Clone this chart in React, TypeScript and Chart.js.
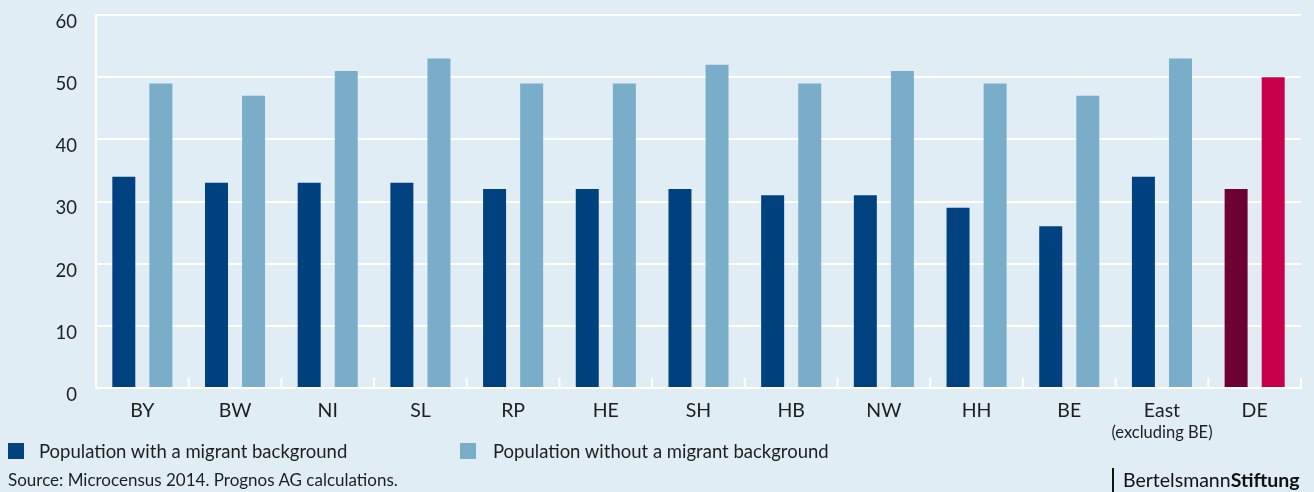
import React, { useEffect, useRef } from "react";
import { Chart, registerables } from "chart.js";

Chart.register(...registerables);

const categories = ["BY", "BW", "NI", "SL", "RP", "HE", "SH", "HB", "NW", "HH", "BE", "East", "DE"];
const subLabels = ["", "", "", "", "", "", "", "", "", "", "", "(excluding BE)", ""];
const withMigrant = [34, 33, 33, 33, 32, 32, 32, 31, 31, 29, 26, 34, 32];
const withoutMigrant = [49, 47, 51, 53, 49, 49, 52, 49, 51, 49, 47, 53, 50];
const yTicks = [0, 10, 20, 30, 40, 50, 60];
const seriesNames = ["Population with a migrant background", "Population without a migrant background"];
const sourceText = "Source: Microcensus 2014. Prognos AG calculations.";

const BG = "#e1edf5";
const DARK = "#00427f";
const LIGHT = "#79adc9";
const DE_DARK = "#6f0034";
const DE_LIGHT = "#c6004b";
const TEXT = "#1e1e1e";
const FONT = "Lato, 'Noto Sans', sans-serif";

const boundaryTicks = {
  id: "boundaryTicks",
  afterDatasetsDraw(chart: any) {
    const x = chart.scales.x;
    const area = chart.chartArea;
    const ctx = chart.ctx;
    const n = categories.length;
    const half = (x.getPixelForValue(1) - x.getPixelForValue(0)) / 2;
    ctx.save();
    ctx.strokeStyle = "#ffffff";
    ctx.lineWidth = 2;
    for (let i = 0; i <= n; i++) {
      const px = i < n ? x.getPixelForValue(i) - half : x.getPixelForValue(n - 1) + half;
      ctx.beginPath();
      ctx.moveTo(px, area.bottom - 10);
      ctx.lineTo(px, area.bottom);
      ctx.stroke();
    }
    ctx.fillStyle = TEXT;
    ctx.font = "16.5px " + FONT;
    ctx.textAlign = "center";
    ctx.textBaseline = "middle";
    subLabels.forEach((s, i) => {
      if (s) ctx.fillText(s, x.getPixelForValue(i), area.bottom + 45);
    });
    ctx.restore();
  },
};

export default function App() {
  const ref = useRef<HTMLCanvasElement>(null);
  useEffect(() => {
    if (!ref.current) return;
    const chart = new Chart(ref.current, {
      type: "bar",
      data: {
        labels: categories,
        datasets: [
          {
            label: seriesNames[0],
            data: withMigrant,
            backgroundColor: categories.map((c) => (c === "DE" ? DE_DARK : DARK)),
            categoryPercentage: 0.8,
            barPercentage: 0.62,
          },
          {
            label: seriesNames[1],
            data: withoutMigrant,
            backgroundColor: categories.map((c) => (c === "DE" ? DE_LIGHT : LIGHT)),
            categoryPercentage: 0.8,
            barPercentage: 0.62,
          },
        ],
      },
      options: {
        responsive: false,
        animation: false,
        layout: { padding: { top: 0, right: 13, bottom: 64, left: 0 } },
        plugins: { legend: { display: false }, tooltip: { enabled: false } },
        scales: {
          x: {
            grid: { display: false, drawTicks: false },
            border: { display: true, color: "#ffffff", width: 2 },
            ticks: { color: TEXT, font: { family: FONT, size: 19.5 }, padding: 11, maxRotation: 0, autoSkip: false },
            afterFit: (s: any) => {
              s.height = 40;
            },
          },
          y: {
            min: 0,
            max: 60,
            afterBuildTicks: (s: any) => {
              s.ticks = yTicks.map((v) => ({ value: v }));
            },
            grid: { color: "#ffffff", lineWidth: 2, drawTicks: false },
            border: { display: true, color: "#ffffff", width: 2 },
            ticks: { color: TEXT, font: { family: FONT, size: 18.5 }, padding: 19, labelOffset: 7 },
            afterFit: (s: any) => {
              s.width = 96;
              s.paddingTop = 15;
            },
          },
        },
      },
      plugins: [boundaryTicks],
    });
    return () => chart.destroy();
  }, []);

  return (
    <div style={{ position: "absolute", left: 0, top: 0, width: 1314, height: 492, background: BG, fontFamily: FONT, color: TEXT, overflow: "hidden" }}>
      <canvas ref={ref} width={1314} height={492} style={{ display: "block", width: 1314, height: 492 }} />
      <div style={{ position: "absolute", left: 8, top: 441, display: "flex", alignItems: "center", fontSize: 18.5, lineHeight: "20px" }}>
        <span style={{ width: 16, height: 16, background: DARK, display: "inline-block" }} />
        <span style={{ marginLeft: 15 }}>{seriesNames[0]}</span>
      </div>
      <div style={{ position: "absolute", left: 460, top: 441, display: "flex", alignItems: "center", fontSize: 18.5, lineHeight: "20px" }}>
        <span style={{ width: 16, height: 16, background: LIGHT, display: "inline-block" }} />
        <span style={{ marginLeft: 17 }}>{seriesNames[1]}</span>
      </div>
      <div style={{ position: "absolute", left: 8, top: 470, fontSize: 17, lineHeight: "20px" }}>{sourceText}</div>
      <div style={{ position: "absolute", left: 1112, top: 468, height: 24, borderLeft: "2px solid #111", paddingLeft: 9, fontSize: 19.5, lineHeight: "24px", color: "#111" }}>
        Bertelsmann<b>Stiftung</b>
      </div>
    </div>
  );
}
